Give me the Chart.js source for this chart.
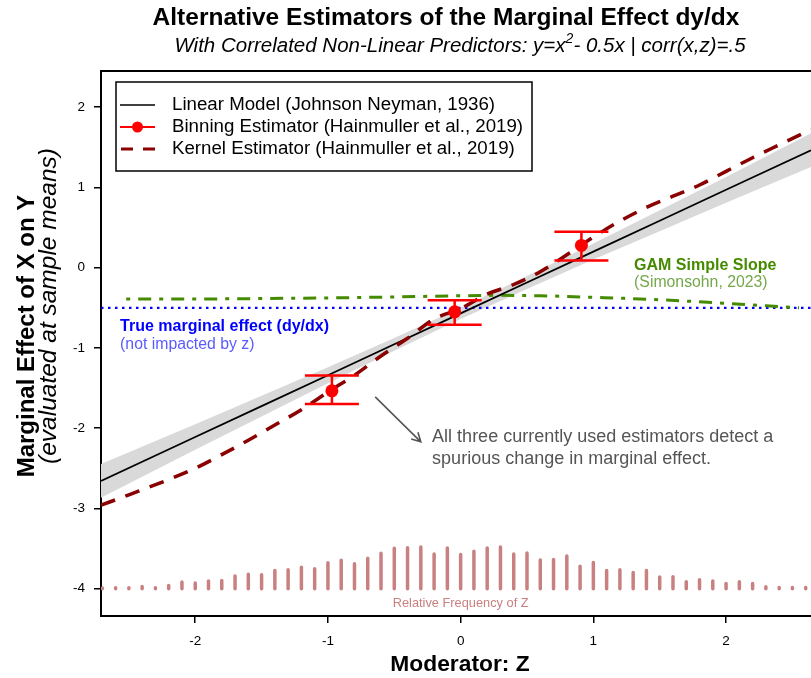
<!DOCTYPE html>
<html><head><meta charset="utf-8">
<script src="https://cdn.jsdelivr.net/npm/chart.js@4.4.0/dist/chart.umd.min.js"></script>
<style>html,body{margin:0;padding:0;background:#fff;}canvas{display:block}</style>
</head><body>
<canvas id="c" width="811" height="678"></canvas>
<script>
// ---------- data ----------
const xTicks = [-2, -1, 0, 1, 2];
const yTicks = [-4, -3, -2, -1, 0, 1, 2];

// Linear model (Johnson Neyman) estimate and confidence band
const linZ   = [-2.71, -2, -1.5, -1, -0.5, 0, 0.5, 1, 1.5, 2, 2.64];
const linEst = [-2.657, -2.11, -1.725, -1.34, -0.955, -0.57, -0.185, 0.2, 0.585, 0.97, 1.463];
const linLo  = [-2.867, -2.27, -1.855, -1.44, -1.035, -0.64, -0.265, 0.10, 0.455, 0.81, 1.253];
const linHi  = [-2.447, -1.95, -1.595, -1.24, -0.875, -0.50, -0.105, 0.30, 0.715, 1.13, 1.673];

// Binning estimator
const binZ   = [-0.97, -0.045, 0.91];
const binEst = [-1.535, -0.55, 0.277];
const binLo  = [-1.70, -0.71, 0.088];
const binHi  = [-1.345, -0.405, 0.446];

// Kernel estimator
const kerZ   = [-2.71, -2.5, -2.2, -2.0, -1.8, -1.6, -1.4, -1.2, -1.0, -0.8, -0.6, -0.4, -0.2, 0, 0.2, 0.4, 0.6, 0.8, 1.0, 1.2, 1.4, 1.6, 1.8, 2.0, 2.2, 2.4, 2.64];
const kerEst = [-2.96, -2.83, -2.64, -2.50, -2.33, -2.15, -1.96, -1.77, -1.55, -1.34, -1.10, -0.88, -0.64, -0.51, -0.33, -0.21, -0.05, 0.16, 0.38, 0.58, 0.75, 0.89, 1.03, 1.20, 1.37, 1.53, 1.72];

// GAM simple slope (Simonsohn, 2023)
const gamZ   = [-2.52, -2, -1.5, -1, -0.5, 0, 0.3, 0.6, 1, 1.5, 2, 2.3, 2.55];
const gamEst = [-0.39, -0.39, -0.385, -0.377, -0.365, -0.35, -0.345, -0.35, -0.37, -0.40, -0.445, -0.475, -0.50];

// True marginal effect
const trueZ   = [-2.71, 2.64];
const trueEst = [-0.5, -0.5];

// Relative frequency of Z
const freqZ   = [-2.7,-2.6,-2.5,-2.4,-2.3,-2.2,-2.1,-2.0,-1.9,-1.8,-1.7,-1.6,-1.5,-1.4,-1.3,-1.2,-1.1,-1.0,-0.9,-0.8,-0.7,-0.6,-0.5,-0.4,-0.3,-0.2,-0.1,0.0,0.1,0.2,0.3,0.4,0.5,0.6,0.7,0.8,0.9,1.0,1.1,1.2,1.3,1.4,1.5,1.6,1.7,1.8,1.9,2.0,2.1,2.2,2.3,2.4,2.5,2.6];
const freqRel = [2,3,3,7,3,10,20,17,23,25,38,44,42,55,57,65,60,78,86,75,92,107,122,124,126,105,123,103,113,123,126,105,108,87,88,99,68,79,55,57,49,55,35,36,21,27,23,16,21,16,6,4,4,4];

// ---------- rendering ----------
const FONT = '"Liberation Sans", Arial, Helvetica, sans-serif';
const pts = (xs, ys) => xs.map((x, i) => ({x, y: ys[i]}));
const FREQ_BASE = -4, FREQ_MAXH = 0.52;
const maxF = Math.max(...freqRel);
const freqPts = [];
freqZ.forEach((z, i) => {
  freqPts.push({x: z, y: FREQ_BASE}, {x: z, y: FREQ_BASE + freqRel[i] / maxF * FREQ_MAXH}, {x: z, y: null});
});

const COL = {band:'#d9d9d9', lin:'#000000', bin:'#ff0000', ker:'#8b0000', gam:'#458b00', gamLight:'#74a84a', blue:'#0000ff', blueLight:'#5a5aff', freq:'#c98080', grey:'#555555'};

function text(ctx, s, x, y, font, color, align, baseline) {
  ctx.save();
  ctx.font = font; ctx.fillStyle = color;
  ctx.textAlign = align || 'left'; ctx.textBaseline = baseline || 'middle';
  ctx.fillText(s, x, y);
  ctx.restore();
}

const decor = {
  id: 'decor',
  beforeDraw(chart) {
    const ctx = chart.ctx;
    ctx.save(); ctx.fillStyle = '#fff'; ctx.fillRect(0, 0, chart.width, chart.height); ctx.restore();
  },
  beforeDatasetDraw(chart, args) {
    if (args.meta.label !== 'Binning') return;
    const {ctx, scales: {x, y}} = chart;
    ctx.save();
    ctx.strokeStyle = COL.bin; ctx.lineWidth = 2.5; ctx.lineCap = 'butt';
    binZ.forEach((z, i) => {
      const px = x.getPixelForValue(z), lo = y.getPixelForValue(binLo[i]), hi = y.getPixelForValue(binHi[i]);
      ctx.beginPath();
      ctx.moveTo(px, lo); ctx.lineTo(px, hi);
      ctx.moveTo(px - 27, lo); ctx.lineTo(px + 27, lo);
      ctx.moveTo(px - 27, hi); ctx.lineTo(px + 27, hi);
      ctx.stroke();
    });
    ctx.restore();
  },
  afterDraw(chart) {
    const {ctx, chartArea: a, scales: {x, y}} = chart;
    // top border of the plot box
    ctx.save();
    ctx.strokeStyle = '#000'; ctx.lineWidth = 2;
    ctx.beginPath(); ctx.moveTo(a.left - 1, a.top); ctx.lineTo(chart.width, a.top); ctx.stroke();
    ctx.restore();

    // titles
    text(ctx, 'Alternative Estimators of the Marginal Effect dy/dx', 446, 18, 'bold 24.5px ' + FONT, '#000', 'center');
    const F1 = 'italic 20.5px ' + FONT, F2 = 'italic 14px ' + FONT;
    const s1 = 'With Correlated Non-Linear Predictors: y=x', s2 = '2', s3 = '- 0.5x | corr(x,z)=.5';
    ctx.save();
    ctx.font = F1; const w1 = ctx.measureText(s1).width, w3 = ctx.measureText(s3).width;
    ctx.font = F2; const w2 = ctx.measureText(s2).width;
    ctx.restore();
    let sx = 460 - (w1 + w2 + w3) / 2;
    text(ctx, s1, sx, 46, F1, '#000');
    text(ctx, s2, sx + w1, 39, F2, '#000');
    text(ctx, s3, sx + w1 + w2, 46, F1, '#000');

    // axis titles
    text(ctx, 'Moderator: Z', 460, 665, 'bold 22.8px ' + FONT, '#000', 'center');
    ctx.save();
    ctx.translate(27, 336); ctx.rotate(-Math.PI / 2);
    text(ctx, 'Marginal Effect of X on Y', 0, 0, 'bold 24px ' + FONT, '#000', 'center');
    ctx.restore();
    ctx.save();
    ctx.translate(49, 306); ctx.rotate(-Math.PI / 2);
    text(ctx, '(evaluated at sample means)', 0, 0, 'italic 24.5px ' + FONT, '#000', 'center');
    ctx.restore();

    // annotations (data coordinates)
    const X = v => x.getPixelForValue(v), Y = v => y.getPixelForValue(v);
    text(ctx, 'True marginal effect (dy/dx)', X(-2.566), Y(-0.74), 'bold 16px ' + FONT, COL.blue);
    text(ctx, '(not impacted by z)', X(-2.566), Y(-0.955), '15.8px ' + FONT, COL.blueLight);
    text(ctx, 'GAM Simple Slope', X(1.307), Y(0.02), 'bold 16px ' + FONT, COL.gam);
    text(ctx, '(Simonsohn, 2023)', X(1.307), Y(-0.19), '15.8px ' + FONT, COL.gamLight);
    text(ctx, 'All three currently used estimators detect a', X(-0.215), Y(-2.11), '18px ' + FONT, COL.grey);
    text(ctx, 'spurious change in marginal effect.', X(-0.215), Y(-2.385), '18px ' + FONT, COL.grey);
    text(ctx, 'Relative Frequency of Z', X(0), Y(-4.19), '12.8px ' + FONT, COL.freq, 'center');

    // arrow
    const ax1 = X(-0.644), ay1 = Y(-1.61), ax2 = X(-0.30), ay2 = Y(-2.17);
    const ang = Math.atan2(ay2 - ay1, ax2 - ax1), L = 10;
    ctx.save();
    ctx.strokeStyle = COL.grey; ctx.lineWidth = 1.6;
    ctx.beginPath(); ctx.moveTo(ax1, ay1); ctx.lineTo(ax2, ay2);
    ctx.moveTo(ax2 - L * Math.cos(ang - 0.5), ay2 - L * Math.sin(ang - 0.5)); ctx.lineTo(ax2, ay2);
    ctx.lineTo(ax2 - L * Math.cos(ang + 0.5), ay2 - L * Math.sin(ang + 0.5));
    ctx.stroke();
    ctx.restore();

    // legend box
    const lx = 116, ly = 82, lw = 416, lh = 89;
    ctx.save();
    ctx.fillStyle = '#fff'; ctx.fillRect(lx, ly, lw, lh);
    ctx.strokeStyle = '#000'; ctx.lineWidth = 1.5; ctx.strokeRect(lx, ly, lw, lh);
    const rows = [105, 127, 149];
    ctx.lineWidth = 1.6; ctx.strokeStyle = COL.lin;
    ctx.beginPath(); ctx.moveTo(120, rows[0]); ctx.lineTo(155, rows[0]); ctx.stroke();
    ctx.lineWidth = 2; ctx.strokeStyle = COL.bin;
    ctx.beginPath(); ctx.moveTo(120, rows[1]); ctx.lineTo(155, rows[1]); ctx.stroke();
    ctx.fillStyle = COL.bin; ctx.beginPath(); ctx.arc(137.5, rows[1], 5.5, 0, Math.PI * 2); ctx.fill();
    ctx.lineWidth = 3; ctx.strokeStyle = COL.ker; ctx.setLineDash([12, 10]);
    ctx.beginPath(); ctx.moveTo(121, rows[2]); ctx.lineTo(155, rows[2]); ctx.stroke();
    ctx.setLineDash([]);
    ctx.restore();
    const LF = '18.7px ' + FONT;
    text(ctx, 'Linear Model (Johnson Neyman, 1936)', 172, rows[0], LF, '#000');
    text(ctx, 'Binning Estimator (Hainmuller et al., 2019)', 172, rows[1], LF, '#000');
    text(ctx, 'Kernel Estimator (Hainmuller et al., 2019)', 172, rows[2], LF, '#000');
  }
};

const axisCommon = {
  type: 'linear',
  grid: {display: true, drawOnChartArea: false, drawTicks: true, tickLength: 7, color: '#000', lineWidth: 1.5},
  border: {display: true, color: '#000', width: 2},
};

new Chart(document.getElementById('c').getContext('2d'), {
  type: 'scatter',
  data: {
    datasets: [
      {label: 'BandLo', data: pts(linZ, linLo), showLine: true, borderColor: 'rgba(0,0,0,0)', borderWidth: 0, pointRadius: 0, fill: false, order: 20},
      {label: 'BandHi', data: pts(linZ, linHi), showLine: true, borderColor: 'rgba(0,0,0,0)', borderWidth: 0, pointRadius: 0, fill: '-1', backgroundColor: COL.band, order: 19},
      {label: 'Freq', data: freqPts, showLine: true, spanGaps: false, borderColor: COL.freq, borderWidth: 3.5, borderCapStyle: 'round', pointRadius: 0, order: 15},
      {label: 'True', data: pts(trueZ, trueEst), showLine: true, borderColor: COL.blue, borderWidth: 2.3, borderDash: [2.5, 4.5], pointRadius: 0, order: 14},
      {label: 'GAM', data: pts(gamZ, gamEst), showLine: true, borderColor: COL.gam, borderWidth: 3, borderDash: [4, 8, 13, 8], pointRadius: 0, cubicInterpolationMode: 'monotone', order: 13},
      {label: 'Linear', data: pts(linZ, linEst), showLine: true, borderColor: COL.lin, borderWidth: 1.8, pointRadius: 0, order: 12},
      {label: 'Kernel', data: pts(kerZ, kerEst), showLine: true, borderColor: COL.ker, borderWidth: 3.5, borderDash: [15, 11], pointRadius: 0, cubicInterpolationMode: 'monotone', order: 11},
      {label: 'Binning', data: pts(binZ, binEst), showLine: false, pointRadius: 6.5, pointBackgroundColor: COL.bin, pointBorderWidth: 0, order: 10}
    ]
  },
  options: {
    responsive: false, animation: false, devicePixelRatio: 1,
    layout: {autoPadding: false, padding: {left: 0, right: 0, top: 71, bottom: 0}},
    plugins: {legend: {display: false}, tooltip: {enabled: false}, title: {display: false}},
    scales: {
      x: Object.assign({}, axisCommon, {
        min: -2.71, max: 2.64,
        afterBuildTicks: s => { s.ticks = xTicks.map(v => ({value: v})); },
        afterFit: s => { s.height = 62; s.paddingLeft = 0; s.paddingRight = 0; },
        ticks: {font: {family: FONT, size: 13.5}, color: '#000', padding: 10, maxRotation: 0, autoSkip: false}
      }),
      y: Object.assign({}, axisCommon, {
        min: -4.34, max: 2.45,
        afterBuildTicks: s => { s.ticks = yTicks.map(v => ({value: v})); },
        afterFit: s => { s.width = 101; s.paddingTop = 0; s.paddingBottom = 0; },
        ticks: {font: {family: FONT, size: 13.5}, color: '#000', padding: 9, autoSkip: false}
      })
    }
  },
  plugins: [decor]
});
</script>
</body></html>
